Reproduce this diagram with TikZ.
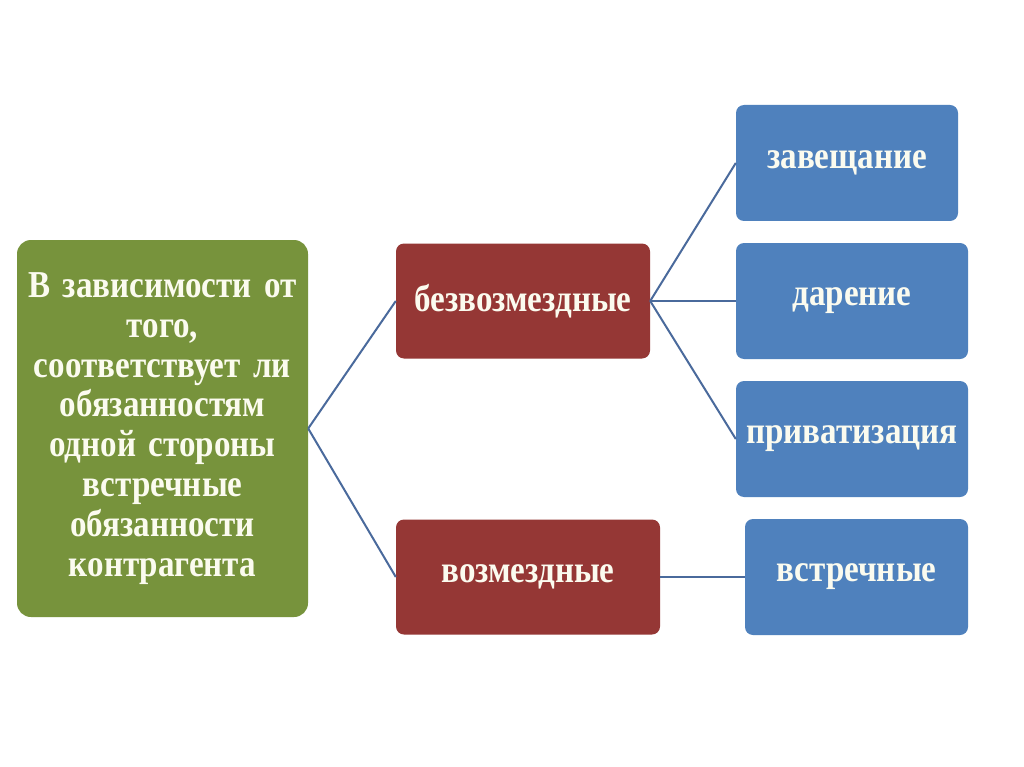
\documentclass[tikz,border=0pt]{standalone}
\usepackage{fontspec}
\setmainfont{Liberation Serif}
\newfontfamily\condfont[FakeStretch=0.87]{Liberation Serif}
\newcommand\mylblfont{\condfont\bfseries\fontsize{38}{39.8}\selectfont\spaceskip=8pt plus 1pt minus 1pt\relax}
\definecolor{gbox}{HTML}{77933C}
\definecolor{rbox}{HTML}{953735}
\definecolor{bbox}{HTML}{4F81BD}
\definecolor{lnk}{HTML}{4A6A9C}
\definecolor{txt}{HTML}{FBFBEF}
\tikzset{
  gcard/.style={fill=gbox, rounded corners=14pt, minimum width=291pt, minimum height=377pt, text width=288pt, align=center},
  rcard/.style={fill=rbox, rounded corners=8pt, minimum height=115pt},
  bcard/.style={fill=bbox, rounded corners=8pt, minimum height=116pt},
  lbl/.style={text=txt, font=\mylblfont, inner sep=0pt},
  link/.style={draw=lnk, line width=2pt}
}
\begin{document}
\begin{tikzpicture}[x=1pt,y=-1pt]
\useasboundingbox (0,0) rectangle (1024,767);
\fill[white] (0,0) rectangle (1024,767);
\node[gcard, lbl] (g) at (162.5,428.5) {В зависимости от\\того,\\соответствует ли\\обязанностям\\одной стороны\\встречные\\обязанности\\контрагента};
\node[rcard, lbl, minimum width=254pt] (r1) at (523,301) {безвозмездные};
\node[rcard, lbl, minimum width=264pt] (r2) at (528,577) {возмездные};
\node[bcard, lbl, minimum width=222pt] (b1) at (847,163) {завещание};
\node[bcard, lbl, minimum width=232pt] (b2) at (852,301) {дарение};
\node[bcard, lbl, minimum width=232pt] (b3) at (852,439) {приватизация};
\node[bcard, lbl, minimum width=223pt] (b4) at (856.5,577) {встречные};
\draw[link] (g.east) -- (r1.west);
\draw[link] (g.east) -- (r2.west);
\draw[link] (r1.east) -- (b1.west);
\draw[link] (r1.east) -- (b2.west);
\draw[link] (r1.east) -- (b3.west);
\draw[link] (r2.east) -- (b4.west);
\end{tikzpicture}
\end{document}
